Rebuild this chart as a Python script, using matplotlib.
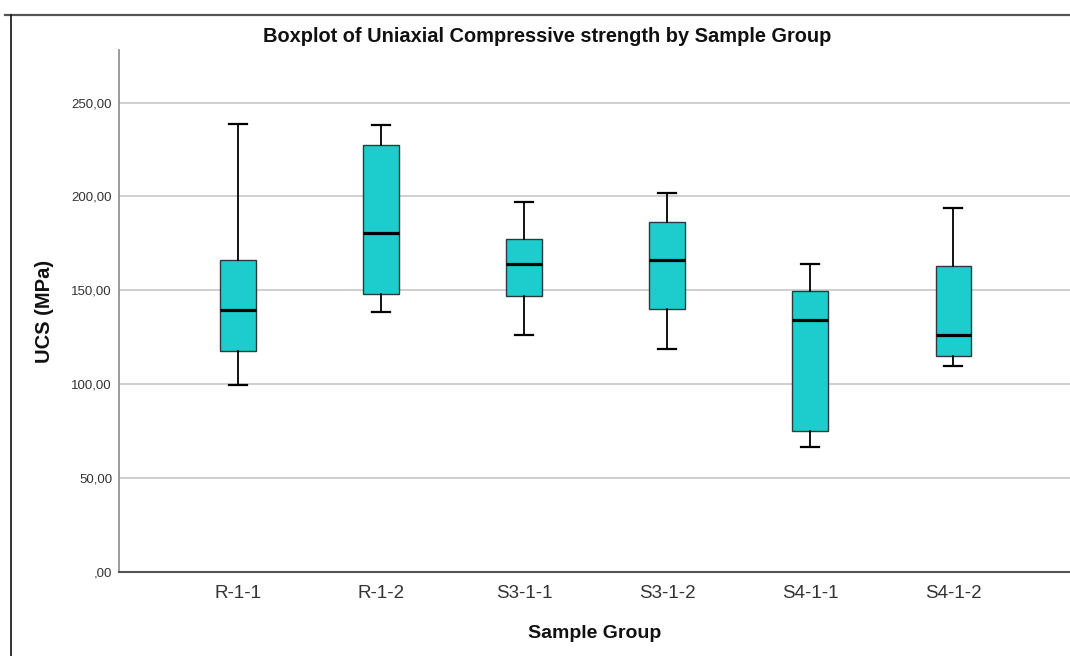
import matplotlib
matplotlib.use("Agg")
import matplotlib.pyplot as plt
from matplotlib.lines import Line2D
from matplotlib.ticker import FuncFormatter, MultipleLocator

# Five-number summaries of UCS (MPa) per sample group
groups = ["R-1-1", "R-1-2", "S3-1-1", "S3-1-2", "S4-1-1", "S4-1-2"]
whisker_low = [99.5, 138.7, 126.3, 118.5, 66.6, 109.6]
quartile_1 = [117.7, 148.1, 146.9, 140.3, 75.1, 114.9]
medians = [139.4, 180.8, 163.9, 166.4, 134.1, 126.3]
quartile_3 = [165.9, 227.3, 177.1, 186.5, 149.5, 162.9]
whisker_high = [238.5, 238.2, 197.3, 202.1, 163.9, 193.6]

plt.rcParams["font.family"] = ["Liberation Sans", "DejaVu Sans"]

fig = plt.figure(figsize=(10.70, 6.56), dpi=100)
W, H = 1070, 656

# Outer frame (top and left edges)
fig.add_artist(Line2D([5 / W, 1.0], [1 - 15 / H, 1 - 15 / H], transform=fig.transFigure,
                      color="#555555", lw=1.6))
fig.add_artist(Line2D([11 / W, 11 / W], [0, 1 - 15 / H], transform=fig.transFigure,
                      color="#111111", lw=1.2))

ax = fig.add_axes([119 / W, (H - 572) / H, 1 - 119 / W, (572 - 50) / H])

stats = []
for i, name in enumerate(groups):
    stats.append(dict(label=name, whislo=whisker_low[i], q1=quartile_1[i], med=medians[i],
                      q3=quartile_3[i], whishi=whisker_high[i], fliers=[]))

ax.bxp(stats, positions=range(len(groups)), widths=0.245, patch_artist=True,
       showfliers=False,
       boxprops=dict(facecolor="#1dcdcd", edgecolor="#2b3b3b", linewidth=1.0),
       medianprops=dict(color="black", linewidth=2.3),
       whiskerprops=dict(color="black", linewidth=1.3),
       capprops=dict(color="black", linewidth=1.6),
       capwidths=0.126, zorder=3)

ax.set_xlim(-0.832, 5.818)
ax.set_ylim(0, 278)
ax.yaxis.set_major_locator(MultipleLocator(50))

def comma_fmt(v, _):
    s = f"{v:.2f}".replace(".", ",")
    return s[1:] if s.startswith("0,") else s

ax.yaxis.set_major_formatter(FuncFormatter(comma_fmt))

for y in [50, 100, 150, 200, 250]:
    ax.axhline(y, color="#cfcfcf", lw=1.4, zorder=1)

for side in ["top", "right"]:
    ax.spines[side].set_visible(False)
ax.spines["left"].set_color("#8a8a8a")
ax.spines["left"].set_linewidth(1.2)
ax.spines["bottom"].set_color("#555555")
ax.spines["bottom"].set_linewidth(1.5)

ax.tick_params(axis="y", length=0, pad=5, labelsize=9.5, labelcolor="#333333")
ax.tick_params(axis="x", length=0, pad=9, labelsize=13.5, labelcolor="#333333")

ax.set_xlabel("Sample Group", fontsize=14, fontweight="bold", color="#111111", va="center")
ax.xaxis.set_label_coords(0.5, -(634 - 572) / 522)
ax.set_ylabel("UCS (MPa)", fontsize=14.5, fontweight="bold", color="#111111", va="center")
ax.yaxis.set_label_coords(-(119 - 45) / 951, 0.5)

fig.text(547 / W, 1 - 37 / H, "Boxplot of Uniaxial Compressive strength by Sample Group",
         ha="center", va="center", fontsize=14.4, fontweight="bold", color="#111111")

fig.savefig("out.png", dpi=100)
